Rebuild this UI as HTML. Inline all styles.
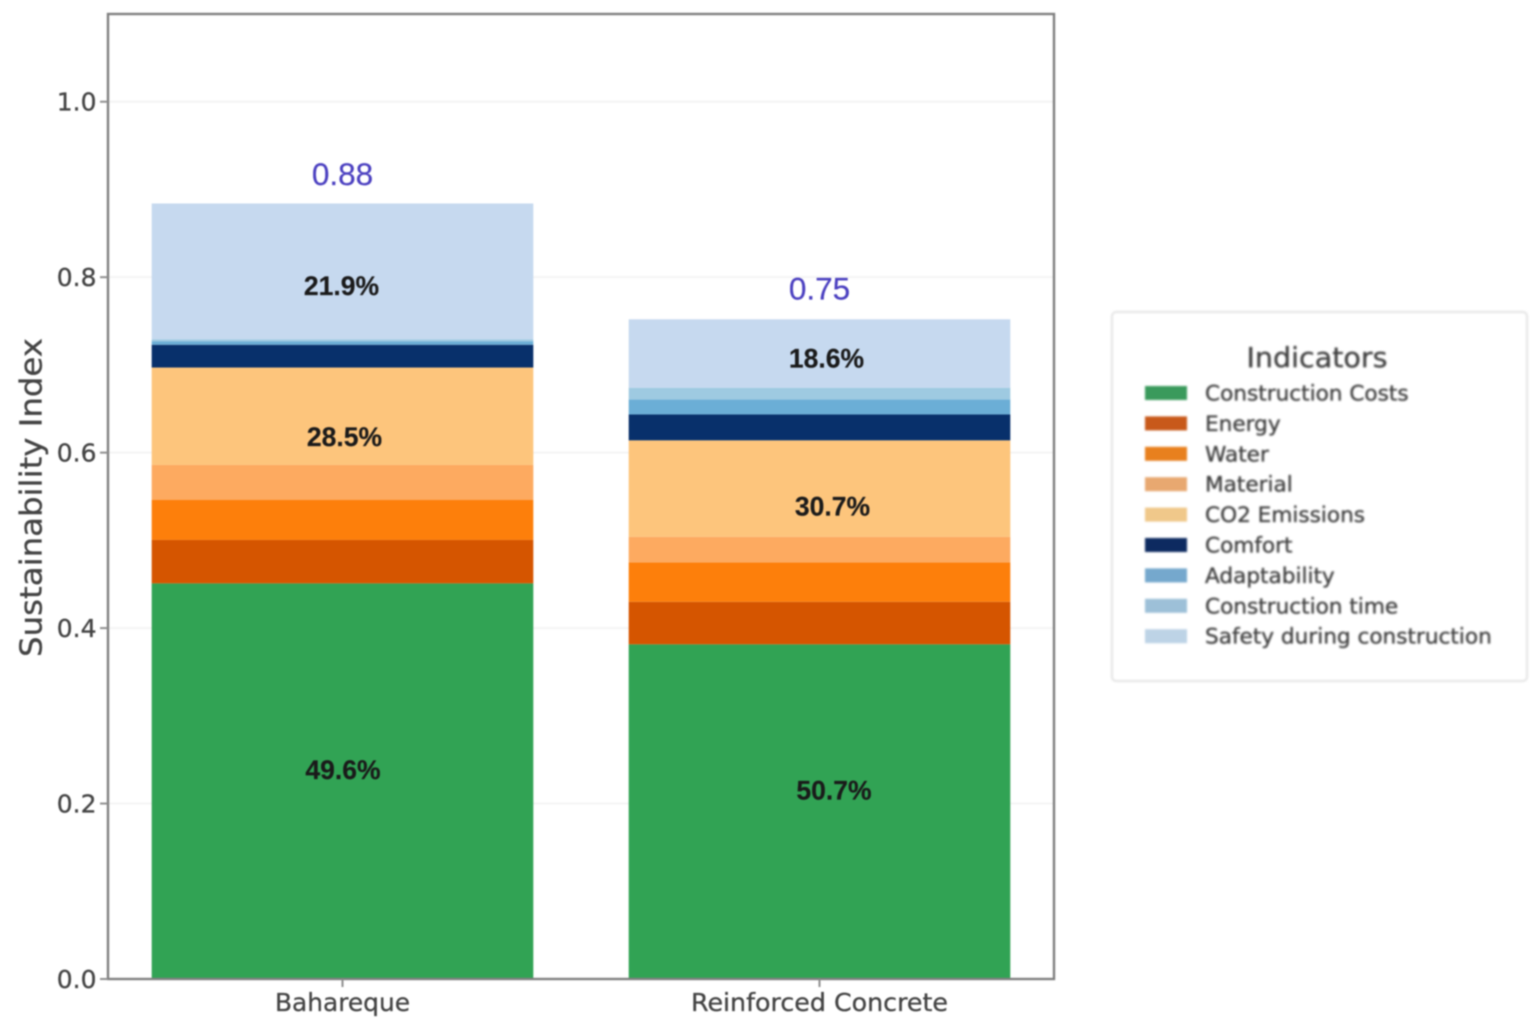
<!DOCTYPE html>
<html lang="en">
<head>
<meta charset="utf-8">
<title>Sustainability Index by Indicator</title>
<style>
  html, body { margin: 0; padding: 0; background: #fff; }
  body { width: 1535px; height: 1029px; overflow: hidden; }
  svg { display: block; }
  text { font-family: "DejaVu Sans", "Liberation Sans", sans-serif; }
  #plot { filter: blur(0.8px); }
  #legend { filter: blur(1px); }
  .axis-text { fill: #444444; font-size: 25px; stroke: #444444; stroke-width: 0.3px; }
  .pct { font-family: "Liberation Sans", sans-serif; font-weight: bold; font-size: 26.5px; fill: #1a1a1a; stroke: #1a1a1a; stroke-width: 0.2px; text-anchor: middle; }
  .total { font-family: "Liberation Sans", sans-serif; font-size: 31.5px; fill: #4a3fc0; stroke: #4a3fc0; stroke-width: 0.2px; text-anchor: middle; }
  .legend-label { fill: #404040; font-size: 21.6px; stroke: #404040; stroke-width: 0.35px; }
</style>
</head>
<body>
<svg id="chart" xmlns="http://www.w3.org/2000/svg" width="1535" height="1029" viewBox="0 0 1535 1029">
  <rect width="1535" height="1029" fill="#ffffff"/>
  <g id="plot">
    <g id="grid"></g>
    <g id="bars"></g>
    <rect x="108" y="14" width="946" height="965" fill="none" stroke="#808080" stroke-width="2.4"/>
    <g id="ticks"></g>
    <g id="labels"></g>
    <text transform="translate(41.5 497.5) rotate(-90)" text-anchor="middle" font-size="30.5" fill="#444444" stroke="#444444" stroke-width="0.3" textLength="319" lengthAdjust="spacingAndGlyphs">Sustainability Index</text>
  </g>
  <g id="legend">
    <rect x="1112" y="312" width="415" height="369" rx="4" fill="#ffffff" stroke="#e4e4e4" stroke-width="2"/>
    <text x="1317" y="367" text-anchor="middle" font-size="27.5" fill="#404040" stroke="#404040" stroke-width="0.3" textLength="141" lengthAdjust="spacingAndGlyphs">Indicators</text>
  </g>
</svg>
<script>
const categories = ["Bahareque", "Reinforced Concrete"];
const seriesNames = ["Construction Costs", "Energy", "Water", "Material", "CO2 Emissions", "Comfort", "Adaptability", "Construction time", "Safety during construction"];
const bahareque = [0.451, 0.0495, 0.0455, 0.040, 0.111, 0.026, 0.004, 0.002, 0.155];
const reinforcedConcrete = [0.3815, 0.0485, 0.045, 0.029, 0.110, 0.0295, 0.017, 0.0135, 0.078];
const totals = ["0.88", "0.75"];
const yTicks = [0, 0.2, 0.4, 0.6, 0.8, 1.0];
const yTickLabels = ["0.0", "0.2", "0.4", "0.6", "0.8", "1.0"];
const pctSeries = [0, 4, 8];
const baharequePct = ["49.6%", "28.5%", "21.9%"];
const concretePct = ["50.7%", "30.7%", "18.6%"];

const barColors = ["#31a354", "#d55500", "#fd7f0b", "#fdaa60", "#fdc57c", "#08306b", "#6baed6", "#9ecae1", "#c6d9ef"];
const legendColors = ["#3a9a5c", "#c8591a", "#e8801e", "#e8a870", "#f0c88a", "#0d2a60", "#75a8cd", "#9dc0d8", "#bdd3e6"];

const NS = "http://www.w3.org/2000/svg";
const plotLeft = 108, plotRight = 1054, plotTop = 14, plotBottom = 979;
const xMin = -0.4916, xMax = 1.4916, yMin = 0, yMax = 1.1;
const barWidth = 0.8;

function xScale(v) { return plotLeft + (v - xMin) / (xMax - xMin) * (plotRight - plotLeft); }
function yScale(v) { return plotBottom - (v - yMin) / (yMax - yMin) * (plotBottom - plotTop); }

function make(tag, attrs, text) {
  const el = document.createElementNS(NS, tag);
  for (const k in attrs) el.setAttribute(k, attrs[k]);
  if (text !== undefined) el.textContent = text;
  return el;
}
function slug(s) { return s.toLowerCase().replace(/[^a-z0-9]+/g, "-"); }

const gridG = document.getElementById("grid");
const barsG = document.getElementById("bars");
const ticksG = document.getElementById("ticks");
const labelsG = document.getElementById("labels");
const legendG = document.getElementById("legend");

yTicks.forEach(function (t, i) {
  const y = yScale(t);
  if (t > 0) {
    const g = make("line", { x1: plotLeft, x2: plotRight, y1: y, y2: y, stroke: "#f4f4f4", "stroke-width": 2 });
    
    
    gridG.appendChild(g);
  }
  const tick = make("line", { x1: plotLeft - 8, x2: plotLeft, y1: y, y2: y, stroke: "#8e8e8e", "stroke-width": 2 });
  
  
  ticksG.appendChild(tick);
  const lab = make("text", { x: 96.5, y: y + 9, "text-anchor": "end", "class": "axis-text" }, yTickLabels[i]);
  
  
  ticksG.appendChild(lab);
});

const barSeries = [bahareque, reinforcedConcrete];
const pctTexts = [baharequePct, concretePct];
/* small manual label offsets in px: [dx, dy] relative to each segment centre */
const labelNudge = [
  [[0.5, -11], [2, 21], [-1, 14.5]],
  [[14.5, -21], [13, 18], [7, 5]]
];
const categoryLabelWidth = [135, 257];
const totalGap = [29.5, 31];

categories.forEach(function (cat, c) {
  const x0 = xScale(c - barWidth / 2);
  const x1 = xScale(c + barWidth / 2);
  const cx = xScale(c);
  const vals = barSeries[c];
  const bottoms = [];
  let acc = 0;
  vals.forEach(function (v, s) {
    bottoms.push(acc);
    const yTop = yScale(acc + v);
    const yBot = yScale(acc);
    const r = make("rect", { x: x0, y: yTop, width: x1 - x0, height: yBot - yTop, fill: barColors[s] });
    
    
    barsG.appendChild(r);
    acc += v;
  });

  pctSeries.forEach(function (s, k) {
    const mid = bottoms[s] + vals[s] / 2;
    const t = make("text", {
      x: cx + labelNudge[c][k][0],
      y: yScale(mid) + labelNudge[c][k][1] + 9,
      "class": "pct"
    }, pctTexts[c][k]);
    
    
    labelsG.appendChild(t);
  });

  const total = make("text", { x: cx, y: yScale(acc) - totalGap[c] + 11, "class": "total" }, totals[c]);
  
  
  labelsG.appendChild(total);

  const tick = make("line", { x1: cx, x2: cx, y1: plotBottom, y2: plotBottom + 8, stroke: "#8e8e8e", "stroke-width": 2 });
  
  
  ticksG.appendChild(tick);

  const lab = make("text", {
    x: cx, y: 1011, "text-anchor": "middle", "class": "axis-text",
    textLength: categoryLabelWidth[c], lengthAdjust: "spacingAndGlyphs"
  }, cat);
  
  
  ticksG.appendChild(lab);
});

seriesNames.forEach(function (name, s) {
  const y = 393 + s * 30.4;
  const sw = make("rect", { x: 1145, y: y - 7, width: 42, height: 14, fill: legendColors[s] });
  
  
  legendG.appendChild(sw);
  const t = make("text", { x: 1205, y: y + 7.5, "class": "legend-label" }, name);
  
  
  legendG.appendChild(t);
});
</script>
</body>
</html>
